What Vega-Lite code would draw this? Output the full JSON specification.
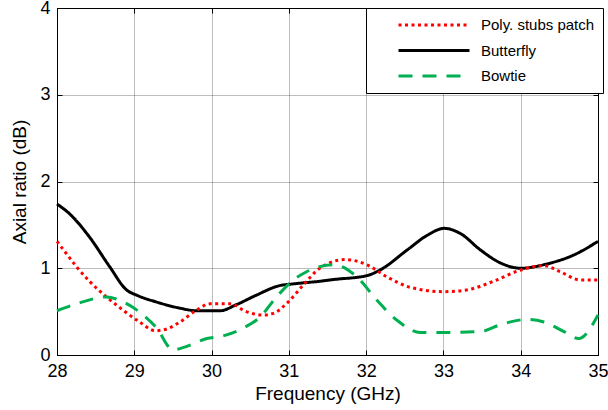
{
  "$schema": "https://vega.github.io/schema/vega-lite/v6.json",
  "width": 541,
  "height": 347,
  "autosize": {"type": "none"},
  "padding": {"left": 57, "top": 8, "right": 10, "bottom": 55},
  "background": "white",
  "config": {
    "font": "Liberation Sans",
    "view": {"stroke": "black", "strokeWidth": 1},
    "axis": {
      "domainColor": "black",
      "tickColor": "black",
      "gridColor": "#444444",
      "gridDash": [1, 1],
      "gridWidth": 0.7,
      "labelFontSize": 18,
      "labelColor": "black",
      "labelFlush": false,
      "titleFontSize": 19,
      "titleFontWeight": "normal",
      "titleColor": "black",
      "tickSize": -5
    }
  },
  "data": {
    "values": [
      {"series": "Butterfly", "f": 28.0, "v": 1.74},
      {"series": "Butterfly", "f": 28.16, "v": 1.63},
      {"series": "Butterfly", "f": 28.42, "v": 1.36},
      {"series": "Butterfly", "f": 28.68, "v": 1.02},
      {"series": "Butterfly", "f": 28.9, "v": 0.75},
      {"series": "Butterfly", "f": 29.03, "v": 0.69},
      {"series": "Butterfly", "f": 29.29, "v": 0.61},
      {"series": "Butterfly", "f": 29.59, "v": 0.54},
      {"series": "Butterfly", "f": 29.81, "v": 0.51},
      {"series": "Butterfly", "f": 30.11, "v": 0.51},
      {"series": "Butterfly", "f": 30.32, "v": 0.58},
      {"series": "Butterfly", "f": 30.58, "v": 0.69},
      {"series": "Butterfly", "f": 30.88, "v": 0.8},
      {"series": "Butterfly", "f": 31.06, "v": 0.82},
      {"series": "Butterfly", "f": 31.4, "v": 0.85},
      {"series": "Butterfly", "f": 31.58, "v": 0.87},
      {"series": "Butterfly", "f": 32.01, "v": 0.915},
      {"series": "Butterfly", "f": 32.18, "v": 0.98},
      {"series": "Butterfly", "f": 32.53, "v": 1.21},
      {"series": "Butterfly", "f": 32.79, "v": 1.38},
      {"series": "Butterfly", "f": 33.01, "v": 1.46},
      {"series": "Butterfly", "f": 33.22, "v": 1.4},
      {"series": "Butterfly", "f": 33.48, "v": 1.21},
      {"series": "Butterfly", "f": 33.74, "v": 1.06},
      {"series": "Butterfly", "f": 34.0, "v": 1.0},
      {"series": "Butterfly", "f": 34.34, "v": 1.05},
      {"series": "Butterfly", "f": 34.68, "v": 1.15},
      {"series": "Butterfly", "f": 35.0, "v": 1.31},
      {"series": "Poly. stubs patch", "f": 28.0, "v": 1.31},
      {"series": "Poly. stubs patch", "f": 28.12, "v": 1.17},
      {"series": "Poly. stubs patch", "f": 28.25, "v": 1.02},
      {"series": "Poly. stubs patch", "f": 28.42, "v": 0.85},
      {"series": "Poly. stubs patch", "f": 28.64, "v": 0.67},
      {"series": "Poly. stubs patch", "f": 28.85, "v": 0.52},
      {"series": "Poly. stubs patch", "f": 29.07, "v": 0.38},
      {"series": "Poly. stubs patch", "f": 29.27, "v": 0.28},
      {"series": "Poly. stubs patch", "f": 29.42, "v": 0.3},
      {"series": "Poly. stubs patch", "f": 29.59, "v": 0.38},
      {"series": "Poly. stubs patch", "f": 29.81, "v": 0.52},
      {"series": "Poly. stubs patch", "f": 29.98, "v": 0.59},
      {"series": "Poly. stubs patch", "f": 30.24, "v": 0.59},
      {"series": "Poly. stubs patch", "f": 30.45, "v": 0.5},
      {"series": "Poly. stubs patch", "f": 30.67, "v": 0.46},
      {"series": "Poly. stubs patch", "f": 30.8, "v": 0.48},
      {"series": "Poly. stubs patch", "f": 30.99, "v": 0.61},
      {"series": "Poly. stubs patch", "f": 31.19, "v": 0.81},
      {"series": "Poly. stubs patch", "f": 31.4, "v": 1.0},
      {"series": "Poly. stubs patch", "f": 31.73, "v": 1.1},
      {"series": "Poly. stubs patch", "f": 32.01, "v": 1.04},
      {"series": "Poly. stubs patch", "f": 32.27, "v": 0.9},
      {"series": "Poly. stubs patch", "f": 32.57, "v": 0.78},
      {"series": "Poly. stubs patch", "f": 33.0, "v": 0.73},
      {"series": "Poly. stubs patch", "f": 33.3, "v": 0.75},
      {"series": "Poly. stubs patch", "f": 33.65, "v": 0.85},
      {"series": "Poly. stubs patch", "f": 34.0, "v": 0.98},
      {"series": "Poly. stubs patch", "f": 34.3, "v": 1.03},
      {"series": "Poly. stubs patch", "f": 34.51, "v": 0.96},
      {"series": "Poly. stubs patch", "f": 34.77, "v": 0.865},
      {"series": "Poly. stubs patch", "f": 35.0, "v": 0.865},
      {"series": "Bowtie", "f": 28.0, "v": 0.51},
      {"series": "Bowtie", "f": 28.29, "v": 0.6},
      {"series": "Bowtie", "f": 28.64, "v": 0.67},
      {"series": "Bowtie", "f": 28.81, "v": 0.63},
      {"series": "Bowtie", "f": 29.03, "v": 0.52},
      {"series": "Bowtie", "f": 29.29, "v": 0.31},
      {"series": "Bowtie", "f": 29.5, "v": 0.06},
      {"series": "Bowtie", "f": 29.68, "v": 0.1},
      {"series": "Bowtie", "f": 29.94, "v": 0.19},
      {"series": "Bowtie", "f": 30.15, "v": 0.22},
      {"series": "Bowtie", "f": 30.41, "v": 0.31},
      {"series": "Bowtie", "f": 30.63, "v": 0.44},
      {"series": "Bowtie", "f": 30.84, "v": 0.67},
      {"series": "Bowtie", "f": 31.06, "v": 0.865},
      {"series": "Bowtie", "f": 31.23, "v": 0.96},
      {"series": "Bowtie", "f": 31.58, "v": 1.04},
      {"series": "Bowtie", "f": 31.88, "v": 0.9},
      {"series": "Bowtie", "f": 32.14, "v": 0.63},
      {"series": "Bowtie", "f": 32.4, "v": 0.4},
      {"series": "Bowtie", "f": 32.7, "v": 0.26},
      {"series": "Bowtie", "f": 33.0, "v": 0.26},
      {"series": "Bowtie", "f": 33.48, "v": 0.27},
      {"series": "Bowtie", "f": 33.74, "v": 0.35},
      {"series": "Bowtie", "f": 34.08, "v": 0.41},
      {"series": "Bowtie", "f": 34.3, "v": 0.38},
      {"series": "Bowtie", "f": 34.56, "v": 0.27},
      {"series": "Bowtie", "f": 34.75, "v": 0.19},
      {"series": "Bowtie", "f": 35.0, "v": 0.46}
    ]
  },
  "layer": [
    {
      "mark": {"type": "line", "strokeWidth": 3, "interpolate": "monotone"},
      "encoding": {
        "x": {
          "field": "f", "type": "quantitative",
          "scale": {"domain": [28, 35], "nice": false, "zero": false},
          "axis": {"title": "Frequency (GHz)", "values": [28, 29, 30, 31, 32, 33, 34, 35], "labelPadding": 12, "titlePadding": 4}
        },
        "y": {
          "field": "v", "type": "quantitative",
          "scale": {"domain": [0, 4], "nice": false},
          "axis": {"title": "Axial ratio (dB)", "values": [0, 1, 2, 3, 4], "labelPadding": 12, "titlePadding": 10}
        },
        "color": {
          "field": "series", "type": "nominal",
          "scale": {"domain": ["Poly. stubs patch", "Butterfly", "Bowtie"], "range": ["#ff0000", "#000000", "#00b050"]},
          "legend": {
            "title": null,
            "orient": "none",
            "legendX": 309,
            "legendY": 0,
            "direction": "vertical",
            "fillColor": "white",
            "strokeColor": "black",
            "padding": 8,
            "clipHeight": 18,
            "symbolType": "stroke",
            "symbolSize": 5041,
            "symbolStrokeWidth": 3,
            "labelFontSize": 15,
            "labelColor": "black",
            "labelOffset": 10,
            "symbolOffset": 23,
            "rowPadding": 7.5
          }
        },
        "strokeDash": {
          "field": "series", "type": "nominal",
          "scale": {"domain": ["Poly. stubs patch", "Butterfly", "Bowtie"], "range": [[3, 3.5], [1, 0], [14, 10]]},
          "legend": null
        }
      }
    },
    {
      "mark": {"type": "line", "strokeOpacity": 0},
      "encoding": {
        "x": {
          "field": "f", "type": "quantitative",
          "axis": {"orient": "top", "title": null, "labels": false, "grid": false, "values": [28, 29, 30, 31, 32, 33, 34, 35]}
        },
        "y": {
          "field": "v", "type": "quantitative",
          "axis": {"orient": "right", "title": null, "labels": false, "grid": false, "values": [0, 1, 2, 3, 4]}
        },
        "detail": {"field": "series"}
      }
    }
  ],
  "resolve": {"axis": {"x": "independent", "y": "independent"}}
}
